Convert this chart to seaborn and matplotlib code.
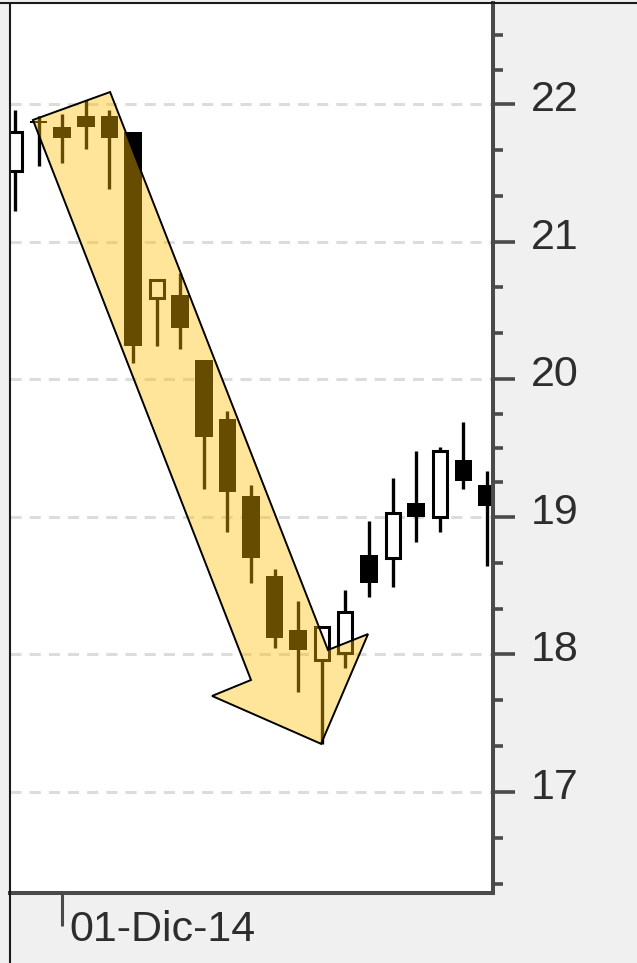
import matplotlib
matplotlib.use("Agg")
import matplotlib.pyplot as plt
from matplotlib.lines import Line2D
from matplotlib.patches import Polygon
from matplotlib.transforms import ScaledTranslation
import numpy as np
import pandas as pd
import seaborn as sns

# Daily OHLC prices, late Nov 2014 to late Dec 2014
dates = pd.bdate_range("2014-11-27", periods=21)
opens = [21.51, 21.88, 21.83, 21.91, 21.91, 21.80, 20.59, 20.61, 20.14, 19.71, 19.15,
         18.57, 18.18, 17.96, 18.01, 18.72, 18.70, 19.10, 19.00, 19.41, 19.23]
closes = [21.80, 21.86, 21.75, 21.83, 21.75, 20.24, 20.72, 20.37, 19.58, 19.18, 18.70,
          18.12, 18.03, 18.20, 18.31, 18.52, 19.03, 19.00, 19.48, 19.26, 19.08]
highs = [21.96, 21.91, 21.93, 22.03, 21.96, 21.80, 20.72, 20.77, 20.14, 19.77, 19.23,
         18.62, 18.39, 18.20, 18.47, 18.97, 19.28, 19.48, 19.51, 19.69, 19.33]
lows = [21.22, 21.55, 21.57, 21.67, 21.38, 20.12, 20.24, 20.22, 19.20, 18.89, 18.52,
        18.05, 17.73, 17.35, 17.90, 18.42, 18.49, 18.82, 18.89, 19.20, 18.64]

# Price axis ticks
major_ticks = [17, 18, 19, 20, 21, 22]
minor_ticks = [16.333, 16.667, 17.333, 17.667, 18.333, 18.667, 19.25, 19.5, 19.75,
               20.333, 20.667, 21.333, 21.667, 22.25, 22.5]

# Spanish month abbreviations for the date axis
meses = {1: "Ene", 2: "Feb", 3: "Mar", 4: "Abr", 5: "May", 6: "Jun", 7: "Jul",
         8: "Ago", 9: "Sep", 10: "Oct", 11: "Nov", 12: "Dic"}

# Downtrend arrow outline (candle index, price)
arrow_x = [0.76, 4.03, 13.26, 14.96, 12.97, 8.35, 10.00]
arrow_y = [21.884, 22.087, 18.032, 18.148, 17.35, 17.698, 17.814]

sns.set_theme(style="white")
plt.rcParams["font.family"] = ["Liberation Sans", "DejaVu Sans"]
plt.rcParams["lines.scale_dashes"] = False

df = pd.DataFrame({"date": dates, "open": opens, "close": closes,
                   "high": highs, "low": lows})
df["idx"] = np.arange(len(df))
df["up"] = df["close"] > df["open"]
df["bottom"] = df[["open", "close"]].min(axis=1)
df["height"] = (df["close"] - df["open"]).abs()

W, H = 637, 963
fig = plt.figure(figsize=(W / 100, H / 100), dpi=100, facecolor="#f0f0f0")
ax = fig.add_axes([10 / W, 70 / H, 483 / W, 890 / H])
ax.set_facecolor("white")

dark = "#4a4a4a"

# wicks
ax.vlines(df["idx"], df["low"], df["high"], color="black", lw=2.4, zorder=2)
# falling candles: solid bodies
dn = df[~df["up"]]
ax.bar(dn["idx"], dn["height"], bottom=dn["bottom"], width=0.74, color="black",
       linewidth=0, zorder=3)
# rising candles: hollow bodies
up = df[df["up"]]
ax.bar(up["idx"], up["height"], bottom=up["bottom"], width=0.6, facecolor="white",
       edgecolor="black", linewidth=2.2, zorder=3)

# translucent trend arrow
arrow = Polygon(np.column_stack([arrow_x, arrow_y]), closed=True,
                facecolor=(1.0, 0.75, 0.0, 0.4), edgecolor="black", lw=1.4,
                zorder=5)
ax.add_patch(arrow)

ax.set_xlim(-0.212, 20.254)
ax.set_ylim(16.266, 22.734)

# axes styling
for side in ["top", "left"]:
    ax.spines[side].set_visible(False)
for side in ["right", "bottom"]:
    ax.spines[side].set_color(dark)
    ax.spines[side].set_linewidth(2.9)
    ax.spines[side].set_zorder(6)

ax.yaxis.tick_right()
ax.set_yticks(major_ticks)
ax.set_yticks(minor_ticks, minor=True)
ax.set_yticklabels([str(t) for t in major_ticks], va="center")
ax.tick_params(axis="y", which="major", length=16, width=2.6, color=dark, pad=11,
               labelsize=31, labelcolor="#2d2d2d", right=True, left=False,
               direction="out")
ax.tick_params(axis="y", which="minor", length=7.5, width=2.6, color=dark,
               right=True, left=False, direction="out")
for lbl in ax.get_yticklabels():
    lbl.set_transform(lbl.get_transform() + ScaledTranslation(0, 4 / 100, fig.dpi_scale_trans))

ax.yaxis.grid(True, which="major", color="#dcdcdc", linestyle=(0, (8, 5.8)), lw=2.2,
              zorder=0)
ax.xaxis.grid(False)
ax.set_axisbelow(True)

# date ticks at the first session of each month
first = df[df["date"].dt.day <= 3].groupby(df["date"].dt.month).head(1)
first = first[first["date"].dt.month == 12]
ax.set_xticks(first["idx"].tolist())
ax.set_xticklabels([f"{d.day:02d}-{meses[d.month]}-{d:%y}" for d in first["date"]],
                   ha="left")
ax.tick_params(axis="x", length=24, width=2.2, color=dark, pad=-12, labelsize=31,
               labelcolor="#2d2d2d", bottom=True, direction="out")
for lbl in ax.get_xticklabels():
    lbl.set_transform(lbl.get_transform() + ScaledTranslation(7 / 100, 0, fig.dpi_scale_trans))

ax.set_xlabel("")
ax.set_ylabel("")

# outer frame lines
fig.add_artist(Line2D([0, 1], [1 - 3.5 / H] * 2, transform=fig.transFigure,
                      color="#1a1a1a", lw=1.5))
fig.add_artist(Line2D([9.5 / W] * 2, [0, 1 - 3.5 / H], transform=fig.transFigure,
                      color="#1a1a1a", lw=1.5))

fig.savefig("out.png", dpi=100, facecolor=fig.get_facecolor())
